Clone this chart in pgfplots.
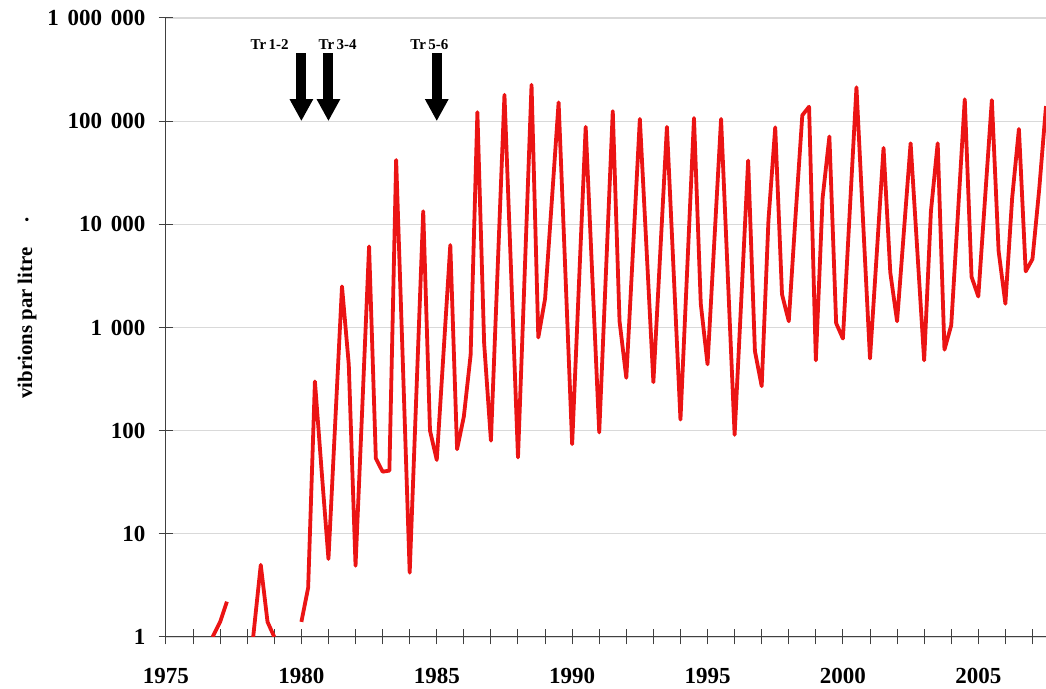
\documentclass[border=0pt]{standalone}
\usepackage{pgfplots}
\pgfplotsset{compat=1.18}
\usepackage{fontspec}
\setmainfont{Liberation Serif}
\usetikzlibrary{arrows.meta}
\definecolor{linered}{RGB}{235,20,20}
\newcommand{\thsp}{\hspace{0.38em}}
\begin{document}
\begin{tikzpicture}
\begin{axis}[
  name=ax,
  scale only axis,
  width=440pt, height=309.5pt,
  xmin=1975, xmax=2007.5,
  ymode=log, ymin=1, ymax=1000000,
  axis x line=bottom, axis y line=left,
  axis line style={-, black!75, line width=0.5pt},
  tick align=center,
  major tick length=7.5pt, minor tick length=7.5pt,
  tick style={black!75, line width=0.5pt},
  xtick={1975,1980,1985,1990,1995,2000,2005},
  minor xtick={1976,1977,1978,1979,1981,1982,1983,1984,1986,1987,1988,1989,1991,1992,1993,1994,1996,1997,1998,1999,2001,2002,2003,2004,2006,2007},
  ytick={1,10,100,1000,10000,100000,1000000},
  yticklabels={1,10,100,1\thsp000,10\thsp000,100\thsp000,1\thsp000\thsp000},
  yminorticks=false,
  ymajorgrids, major grid style={black!15, line width=0.6pt},
  xticklabel={\pgfmathprintnumber[1000 sep={}]{\tick}},
  /pgf/number format/assume math mode=true,
  ticklabel style={font=\fontsize{11.5}{13}\selectfont\bfseries},
  xticklabel style={yshift=-8.5pt},
  yticklabel style={xshift=-3pt},
  clip=true,
  unbounded coords=jump,
]
\addplot[linered, line width=1.9pt, line join=round] table {
x y
1976.72 1
1977.0 1.4
1977.25 2.2
1977.5 nan
1978.22 1
1978.5 5.0
1978.75 1.4
1979.0 1
1979.5 nan
1980.0 1.4
1980.25 3
1980.5 300
1980.75 40
1981.0 5.7
1981.25 120
1981.5 2500
1981.75 440
1982.0 4.9
1982.25 170
1982.5 6100
1982.75 54
1983.0 40
1983.25 41
1983.5 42000
1983.75 430
1984.0 4.2
1984.25 240
1984.5 13400
1984.75 100
1985.0 52
1985.25 570
1985.5 6300
1985.75 66
1986.0 137
1986.25 540
1986.5 122000
1986.75 700
1987.0 80
1987.25 3800
1987.5 180000
1987.75 3200
1988.0 55
1988.25 3500
1988.5 225000
1988.75 800
1989.0 1900
1989.25 17000
1989.5 152000
1989.75 3400
1990.0 74
1990.25 2600
1990.5 88000
1990.75 2900
1991.0 96
1991.25 3500
1991.5 125000
1991.75 1150
1992.0 325
1992.25 5800
1992.5 105000
1992.75 5600
1993.0 295
1993.25 5100
1993.5 88000
1993.75 3400
1994.0 128
1994.25 3700
1994.5 107000
1994.75 1700
1995.0 440
1995.25 6800
1995.5 105000
1995.75 3100
1996.0 91
1996.25 1950
1996.5 41500
1996.75 590
1997.0 270
1997.25 11000
1997.5 87000
1997.75 2100
1998.0 1150
1998.25 12000
1998.5 114000
1998.75 138000
1999.0 480
1999.25 18000
1999.5 71000
1999.75 1100
2000.0 780
2000.25 13000
2000.5 213000
2000.75 10000
2001.0 500
2001.25 5200
2001.5 55000
2001.75 3400
2002.0 1150
2002.25 8400
2002.5 61000
2002.75 5400
2003.0 480
2003.25 13400
2003.5 61000
2003.75 610
2004.0 1050
2004.25 13000
2004.5 163000
2004.75 3100
2005.0 2000
2005.25 18000
2005.5 160000
2005.75 5500
2006.0 1700
2006.25 18000
2006.5 84000
2006.75 3500
2007.0 4600
2007.25 22000
2007.5 140000
};
% treatment arrows
\draw[black, line width=5pt, -{Triangle[width=11pt,length=11pt]}] (axis cs:1980,457000) -- (axis cs:1980,100000);
\draw[black, line width=5pt, -{Triangle[width=11pt,length=11pt]}] (axis cs:1981,457000) -- (axis cs:1981,100000);
\draw[black, line width=5pt, -{Triangle[width=11pt,length=11pt]}] (axis cs:1985,457000) -- (axis cs:1985,100000);
\node[font=\fontsize{7.5}{9}\selectfont\bfseries] at (axis cs:1978.83,550000) {Tr\,1-2};
\node[font=\fontsize{7.5}{9}\selectfont\bfseries] at (axis cs:1981.34,550000) {Tr\,3-4};
\node[font=\fontsize{7.5}{9}\selectfont\bfseries] at (axis cs:1984.73,550000) {Tr\,5-6};
\end{axis}
\node[rotate=90, font=\fontsize{10.4}{12}\selectfont\bfseries] at ([xshift=-69.5pt, yshift=157pt]ax.south west) {vibrions par litre};
\node[rotate=90, font=\fontsize{10.4}{12}\selectfont\bfseries] at ([xshift=-69.5pt, yshift=208.5pt]ax.south west) {.};
\pgfresetboundingbox
\path[use as bounding box] ([xshift=-83pt,yshift=-26pt]ax.south west) rectangle ([yshift=9pt]ax.north east);
\end{tikzpicture}
\end{document}
